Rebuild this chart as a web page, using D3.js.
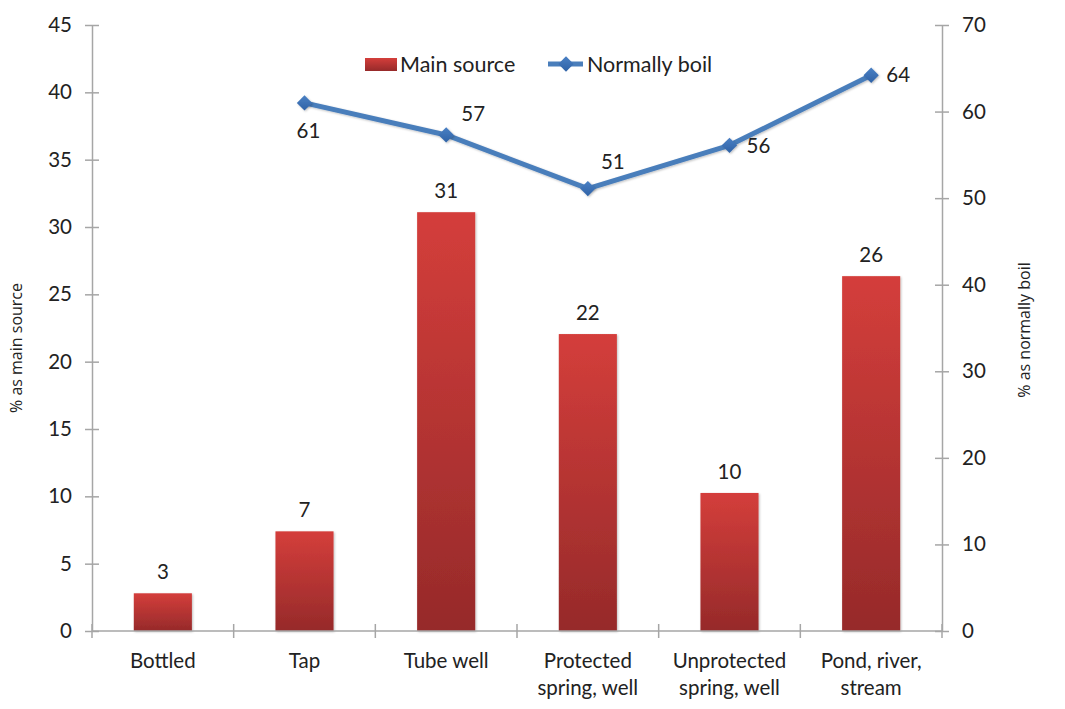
<!DOCTYPE html>
<html><head><meta charset="utf-8">
<script src="https://cdn.jsdelivr.net/npm/d3@7/dist/d3.min.js"></script>
<style>
body{margin:0;background:#fff;}
text{font-family:Lato, "Open Sans", sans-serif;fill:#222;}
</style></head>
<body><svg id="c" width="1065" height="709"></svg>
<script>
const categories = [["Bottled"],["Tap"],["Tube well"],["Protected","spring, well"],["Unprotected","spring, well"],["Pond, river,","stream"]];
const mainSource = [2.8, 7.4, 31.1, 22.05, 10.25, 26.35];
const mainSourceLabels = ["3","7","31","22","10","26"];
const normallyBoil = [null, 61.0, 57.3, 51.1, 56.1, 64.2];
const boilLabels = [null,"61","57","51","56","64"];
const leftTicks = [0,5,10,15,20,25,30,35,40,45];
const rightTicks = [0,10,20,30,40,50,60,70];
// label offsets (layout only)
const boilLabelOffsets = [null,[4,35],[27,-14],[25,-20],[29,8],[27,7]];

const svg = d3.select("#c");
const L = 92, R = 942, T = 25, B = 631;
const idx = d3.range(categories.length);
const x = d3.scaleBand().domain(idx).range([L,R]).paddingInner(0).paddingOuter(0);
const yL = d3.scaleLinear().domain([0,45]).range([B,T]);
const yR = d3.scaleLinear().domain([0,70]).range([B,T]);
const axisCol = "#a6a6a6";
const FS = 20.5;

const defs = svg.append("defs");
const g1 = defs.append("linearGradient").attr("id","barGrad").attr("x1",0).attr("y1",0).attr("x2",0).attr("y2",1);
g1.append("stop").attr("offset","0%").attr("stop-color","#d43e3b");
g1.append("stop").attr("offset","100%").attr("stop-color","#962a2a");
const g2 = defs.append("linearGradient").attr("id","mkGrad").attr("x1",0).attr("y1",0).attr("x2",0).attr("y2",1);
g2.append("stop").attr("offset","0%").attr("stop-color","#4a80c4");
g2.append("stop").attr("offset","100%").attr("stop-color","#2f62a6");
const f = defs.append("filter").attr("id","sh").attr("x","-20%").attr("y","-20%").attr("width","140%").attr("height","140%");
f.append("feDropShadow").attr("dx",1).attr("dy",1).attr("stdDeviation",1.2).attr("flood-color","#000").attr("flood-opacity",0.25);

// bars
const bw = x.bandwidth()*0.41;
svg.append("g").selectAll("rect").data(idx).join("rect")
  .attr("x", i => x(i)+x.bandwidth()/2-bw/2)
  .attr("width", bw)
  .attr("y", i => yL(mainSource[i]))
  .attr("height", i => B - yL(mainSource[i]))
  .attr("fill","url(#barGrad)")
  .attr("filter","url(#sh)");

svg.append("g").selectAll("text").data(idx).join("text")
  .attr("x", i => x(i)+x.bandwidth()/2)
  .attr("y", i => yL(mainSource[i]) - 14)
  .attr("text-anchor","middle").attr("font-size",FS)
  .text(i => mainSourceLabels[i]);

// axes
function styleAxis(g){
  g.selectAll("path.domain").attr("stroke",axisCol).attr("stroke-width",1.5);
  g.selectAll(".tick line").attr("stroke",axisCol).attr("stroke-width",1.5);
  g.selectAll(".tick text").attr("font-size",FS).attr("fill","#222");
}
const gl = svg.append("g").attr("transform",`translate(${L},0)`)
  .call(d3.axisLeft(yL).tickValues(leftTicks).tickSize(7).tickSizeOuter(0).tickPadding(13));
styleAxis(gl);
gl.selectAll(".tick line").attr("x1",7);

const gr = svg.append("g").attr("transform",`translate(${R},0)`)
  .call(d3.axisRight(yR).tickValues(rightTicks).tickSize(7).tickSizeOuter(0).tickPadding(13));
styleAxis(gr);
gr.selectAll(".tick line").attr("x1",-7);

// x axis
const gx = svg.append("g");
gx.append("line").attr("x1",L).attr("x2",R).attr("y1",B).attr("y2",B).attr("stroke",axisCol).attr("stroke-width",1.5);
const bounds = idx.map(i => x(i)).concat([R]);
gx.selectAll("line.t").data(bounds).join("line").attr("class","t")
  .attr("x1",d=>d).attr("x2",d=>d).attr("y1",B-7).attr("y2",B+7)
  .attr("stroke",axisCol).attr("stroke-width",1.5);
const xl = gx.selectAll("text").data(idx).join("text")
  .attr("text-anchor","middle").attr("font-size",FS)
  .attr("x", i => x(i)+x.bandwidth()/2).attr("y", 668);
xl.each(function(i){
  const t = d3.select(this);
  categories[i].forEach((s,k) => t.append("tspan").attr("x", x(i)+x.bandwidth()/2).attr("dy", k===0?0:27).text(s));
});

// line
const pts = idx.filter(i => normallyBoil[i] != null);
const line = d3.line().x(i => x(i)+x.bandwidth()/2).y(i => yR(normallyBoil[i]));
svg.append("path").datum(pts).attr("d",line).attr("fill","none")
  .attr("stroke","#4a7ebb").attr("stroke-width",5).attr("stroke-linejoin","round").attr("filter","url(#sh)");
const diamond = d3.symbol().type(d3.symbolDiamond2).size(150);
svg.append("g").selectAll("path").data(pts).join("path")
  .attr("d", diamond)
  .attr("transform", i => `translate(${x(i)+x.bandwidth()/2},${yR(normallyBoil[i])})`)
  .attr("fill","url(#mkGrad)").attr("filter","url(#sh)");
svg.append("g").selectAll("text").data(pts).join("text")
  .attr("text-anchor","middle").attr("font-size",FS)
  .attr("x", i => x(i)+x.bandwidth()/2 + boilLabelOffsets[i][0])
  .attr("y", i => yR(normallyBoil[i]) + boilLabelOffsets[i][1])
  .text(i => boilLabels[i]);

// axis titles
svg.append("text").attr("transform","translate(22,348) rotate(-90)")
  .attr("text-anchor","middle").attr("font-size",16).style("font-family","'Open Sans', sans-serif").text("% as main source");
svg.append("text").attr("transform","translate(1030,330) rotate(-90)")
  .attr("text-anchor","middle").attr("font-size",16).style("font-family","'Open Sans', sans-serif").text("% as normally boil");

// legend
const lg = svg.append("g");
lg.append("rect").attr("x",365).attr("y",58).attr("width",32).attr("height",13).attr("fill","url(#barGrad)");
lg.append("text").attr("x",400).attr("y",72).attr("font-size",21.5).text("Main source");
lg.append("line").attr("x1",548).attr("x2",583).attr("y1",64).attr("y2",64).attr("stroke","#4a7ebb").attr("stroke-width",5);
lg.append("path").attr("d",diamond).attr("transform","translate(566,64)").attr("fill","url(#mkGrad)");
lg.append("text").attr("x",587).attr("y",72).attr("font-size",21.5).text("Normally boil");
</script></body></html>
